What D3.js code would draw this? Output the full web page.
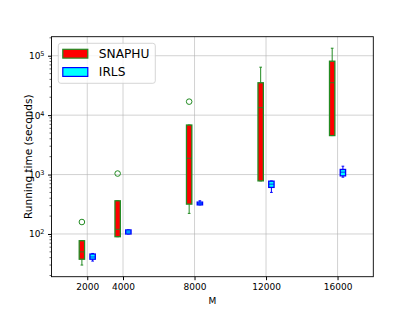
<!DOCTYPE html>
<html>
<head>
<meta charset="utf-8">
<script src="https://cdn.jsdelivr.net/npm/d3@7"></script>
<style>
  body { margin: 0; background: #fff; }
  text { font-family: "DejaVu Sans", sans-serif; }
</style>
</head>
<body>
<div class="chart"></div>
<script>
// box plot of running times, SNAPHU vs IRLS

var svgWidth = 415;
var svgHeight = 311;

var margin = { top: 36.7, right: 41.7, bottom: 34.3, left: 51.5 };
var width = svgWidth - margin.left - margin.right;
var height = svgHeight - margin.top - margin.bottom;

// data
var sizes = [2000, 4000, 8000, 12000, 16000];
var xTicks = [2000, 4000, 8000, 12000, 16000];
var yTicks = [100, 1000, 10000, 100000];

// [whisker low, q1, median, q3, whisker high]
var snaphuStats = [
  [30, 37.6, 50, 77, 77],
  [90, 90, 120, 362, 362],
  [222, 318, 1880, 6820, 6820],
  [783, 783, 13360, 35060, 64100],
  [4530, 4530, 35100, 80900, 133700]
];
var snaphuOutliers = [[159], [1040], [16870], [], []];

var irlsStats = [
  [35, 37.6, 41, 46, 47],
  [100, 100, 108, 117, 117],
  [309, 309, 325, 344, 362],
  [501, 608, 690, 774, 780],
  [904, 951, 1097, 1219, 1383]
];

var svg = d3.select(".chart").append("svg")
  .attr("width", svgWidth)
  .attr("height", svgHeight);

var chartGroup = svg.append("g")
  .attr("transform", `translate(${margin.left}, ${margin.top})`);

var xScale = d3.scaleLinear().domain([0, 18000]).range([0, width]);
var yScale = d3.scaleLog().domain([19.1, 209000]).range([height, 0]);

// grid
chartGroup.append("g").selectAll("line")
  .data(xTicks).enter().append("line")
  .attr("x1", d => xScale(d)).attr("x2", d => xScale(d))
  .attr("y1", 0).attr("y2", height)
  .attr("stroke", "#b0b0b0").attr("stroke-width", 0.8).attr("opacity", 0.7);
chartGroup.append("g").selectAll("line")
  .data(yTicks).enter().append("line")
  .attr("y1", d => yScale(d)).attr("y2", d => yScale(d))
  .attr("x1", 0).attr("x2", width)
  .attr("stroke", "#b0b0b0").attr("stroke-width", 0.8).attr("opacity", 0.7);

// axes
var bottomAxis = d3.axisBottom(xScale).tickValues(xTicks).tickSize(3.5).tickPadding(3).tickFormat(d3.format("d"));
var xAxis = chartGroup.append("g")
  .attr("transform", `translate(0, ${height})`)
  .call(bottomAxis);
xAxis.selectAll("text").attr("font-size", "9px").attr("fill", "#000");

var minorTicks = [];
[10, 100, 1000, 10000, 100000].forEach(function(p) {
  for (var k = 2; k <= 9; k++) {
    var v = p * k;
    if (v >= 19.1 && v <= 209000) minorTicks.push(v);
  }
});
chartGroup.append("g").selectAll("line")
  .data(minorTicks).enter().append("line")
  .attr("x1", -2).attr("x2", 0)
  .attr("y1", d => yScale(d)).attr("y2", d => yScale(d))
  .attr("stroke", "#000").attr("stroke-width", 0.6);

var leftAxis = d3.axisLeft(yScale).tickValues(yTicks).tickSize(3.5).tickPadding(3).tickFormat("");
var yAxis = chartGroup.append("g").call(leftAxis);
yAxis.selectAll(".tick").append("text")
  .attr("x", -7).attr("dy", "0.32em")
  .attr("text-anchor", "end")
  .attr("fill", "#000")
  .attr("font-size", "9px")
  .each(function(d) {
    var t = d3.select(this);
    t.append("tspan").text("10");
    t.append("tspan").attr("dy", "-0.45em").attr("font-size", "6.5px").text(Math.round(Math.log10(d)));
  });

svg.selectAll(".domain").attr("stroke", "none");
chartGroup.append("rect")
  .attr("width", width).attr("height", height)
  .attr("fill", "none").attr("stroke", "#000").attr("stroke-width", 0.9);

// box plots
function drawBoxes(stats, outliers, offset, fill, edge) {
  var boxW = 300;
  var g = chartGroup.append("g");
  stats.forEach(function(s, i) {
    var cx = xScale(sizes[i] + offset);
    var hw = (xScale(boxW) - xScale(0)) / 2;
    var capW = hw / 2;
    // whiskers
    g.append("line").attr("x1", cx).attr("x2", cx)
      .attr("y1", yScale(s[0])).attr("y2", yScale(s[1]))
      .attr("stroke", edge).attr("stroke-width", 1);
    g.append("line").attr("x1", cx).attr("x2", cx)
      .attr("y1", yScale(s[3])).attr("y2", yScale(s[4]))
      .attr("stroke", edge).attr("stroke-width", 1);
    g.append("line").attr("x1", cx - capW).attr("x2", cx + capW)
      .attr("y1", yScale(s[0])).attr("y2", yScale(s[0]))
      .attr("stroke", edge).attr("stroke-width", 1);
    g.append("line").attr("x1", cx - capW).attr("x2", cx + capW)
      .attr("y1", yScale(s[4])).attr("y2", yScale(s[4]))
      .attr("stroke", edge).attr("stroke-width", 1);
    // box
    g.append("rect")
      .attr("x", cx - hw).attr("width", hw * 2)
      .attr("y", yScale(s[3])).attr("height", yScale(s[1]) - yScale(s[3]))
      .attr("fill", fill).attr("stroke", edge).attr("stroke-width", 1.3);
    // median
    g.append("line").attr("x1", cx - hw).attr("x2", cx + hw)
      .attr("y1", yScale(s[2])).attr("y2", yScale(s[2]))
      .attr("stroke", edge).attr("stroke-width", 1).attr("opacity", 0.8);
    if (outliers) {
      g.selectAll(null).data(outliers[i]).enter().append("circle")
        .attr("cx", cx).attr("cy", d => yScale(d)).attr("r", 2.8)
        .attr("fill", "none").attr("stroke", edge).attr("stroke-width", 1);
    }
  });
}

drawBoxes(snaphuStats, snaphuOutliers, -300, "#ff0000", "#228b22");
drawBoxes(irlsStats, null, 300, "#00ffff", "#0000ff");

// axis titles
chartGroup.append("text")
  .attr("x", width / 2).attr("y", height + 27)
  .attr("text-anchor", "middle").attr("font-size", "9px")
  .text("M");

chartGroup.append("text")
  .attr("transform", "rotate(-90)")
  .attr("x", -height / 2).attr("y", -20)
  .attr("text-anchor", "middle").attr("font-size", "10.5px")
  .text("Running time (seconds)");

// legend
var legend = chartGroup.append("g").attr("transform", "translate(6.8, 6.6)");
legend.append("rect")
  .attr("width", 97).attr("height", 40).attr("rx", 2.5)
  .attr("fill", "#fff").attr("fill-opacity", 0.8)
  .attr("stroke", "#cccccc").attr("stroke-width", 0.8);
var legendItems = [
  { name: "SNAPHU", fill: "#ff0000", edge: "#228b22" },
  { name: "IRLS", fill: "#00ffff", edge: "#0000ff" }
];
legendItems.forEach(function(item, i) {
  var ly = 6 + i * 18.3;
  legend.append("rect")
    .attr("x", 4.5).attr("y", ly).attr("width", 25).attr("height", 8.8)
    .attr("fill", item.fill).attr("stroke", item.edge).attr("stroke-width", 1.2);
  legend.append("text")
    .attr("x", 40.5).attr("y", ly + 4.4).attr("dy", "0.36em")
    .attr("font-size", "12.2px")
    .text(item.name);
});
</script>
</body>
</html>
